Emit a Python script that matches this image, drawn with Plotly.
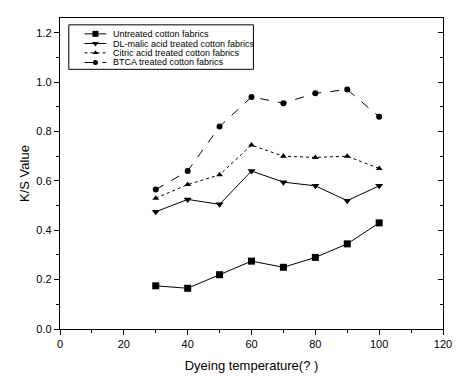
import plotly.graph_objects as go

temps = [30, 40, 50, 60, 70, 80, 90, 100]
untreated = [0.175, 0.165, 0.22, 0.275, 0.25, 0.29, 0.345, 0.43]
dl_malic = [0.475, 0.525, 0.505, 0.64, 0.595, 0.58, 0.52, 0.58]
citric = [0.53, 0.585, 0.625, 0.745, 0.70, 0.695, 0.70, 0.65]
btca = [0.565, 0.64, 0.82, 0.94, 0.915, 0.955, 0.97, 0.86]

names = ["Untreated cotton fabrics", "DL-malic acid treated cotton fabrics",
         "Citric acid treated cotton fabrics", "BTCA treated cotton fabrics"]
series = [untreated, dl_malic, citric, btca]
symbols = ["square", "triangle-down", "triangle-up", "circle"]
dashes = ["solid", "solid", "dot", "dash"]
sizes = [7, 7, 6, 6]

ytick_vals = [0, 0.2, 0.4, 0.6, 0.8, 1.0, 1.2]
xtick_vals = [0, 20, 40, 60, 80, 100, 120]

font = "Liberation Sans, Arial, sans-serif"

fig = go.Figure()
for n, s, sym, d, sz in zip(names, series, symbols, dashes, sizes):
    fig.add_trace(go.Scatter(
        x=temps, y=s, name=n, mode="lines+markers", showlegend=False,
        line=dict(color="black", width=1, dash=d),
        marker=dict(symbol=sym, size=sz, color="black"),
    ))

# invisible copy on the right-hand axis so its inward ticks get drawn
fig.add_trace(go.Scatter(x=temps, y=untreated, yaxis="y3", mode="markers",
                         marker=dict(opacity=0), showlegend=False, hoverinfo="skip"))

# manual compact legend on a hidden overlay axis (0..1 in plot area)
leg_y = [0.949, 0.918, 0.888, 0.857]
line_x = [0.064, 0.121]
for n, sym, d, sz, ly in zip(names, symbols, dashes, sizes, leg_y):
    fig.add_trace(go.Scatter(
        x=line_x, y=[ly, ly], mode="lines", xaxis="x2", yaxis="y2",
        line=dict(color="black", width=1, dash=d), showlegend=False, hoverinfo="skip"))
    fig.add_trace(go.Scatter(
        x=[sum(line_x) / 2], y=[ly], mode="markers", xaxis="x2", yaxis="y2",
        marker=dict(symbol=sym, size=sz - 1, color="black"), showlegend=False, hoverinfo="skip"))
    fig.add_annotation(x=0.133, y=ly, xref="x2", yref="y2", text=n, showarrow=False,
                       xanchor="left", yanchor="middle", font=dict(size=9, family=font))

fig.add_shape(type="rect", xref="x2", yref="y2", x0=0.023, x1=0.505, y0=0.835, y1=0.978,
              line=dict(color="black", width=1), fillcolor="rgba(0,0,0,0)")

fig.update_layout(
    width=464, height=382,
    margin=dict(l=60, r=14, t=18, b=49),
    paper_bgcolor="white", plot_bgcolor="white",
    font=dict(family=font, color="black", size=11),
    showlegend=False,
    xaxis=dict(
        range=[0, 120], tickvals=xtick_vals,
        showline=True, linecolor="black", linewidth=1.3, mirror=True,
        ticks="outside", ticklen=5, tickcolor="black", showgrid=False, zeroline=False,
        minor=dict(ticks="outside", ticklen=3, dtick=10, tickcolor="black"),
        title=dict(text="Dyeing temperature(? )", font=dict(size=13), standoff=11),
        tickfont=dict(size=11), ticklabeloverflow="allow",
    ),
    yaxis=dict(
        range=[0, 1.26], tickvals=ytick_vals, tickformat=".1f",
        showline=True, linecolor="black", linewidth=1.3, mirror=True,
        ticks="outside", ticklen=5, tickcolor="black", showgrid=False, zeroline=False,
        minor=dict(ticks="outside", ticklen=3, dtick=0.1, tickcolor="black"),
        title=dict(text="K/S Value", font=dict(size=13), standoff=3),
        tickfont=dict(size=11),
    ),
    xaxis2=dict(overlaying="x", range=[0, 1], visible=False, fixedrange=True),
    yaxis2=dict(overlaying="y", range=[0, 1], visible=False, fixedrange=True),
    yaxis3=dict(overlaying="y", side="right", anchor="x", range=[0, 1.26],
                showticklabels=False, tickvals=ytick_vals, ticks="inside", ticklen=5,
                tickcolor="black", tickwidth=1, showgrid=False, zeroline=False, showline=False,
                minor=dict(ticks="inside", ticklen=3, dtick=0.1, tickcolor="black")),
)

fig.write_html("out.html", config={"displayModeBar": False},
               post_script="document.body.style.margin='0';")
